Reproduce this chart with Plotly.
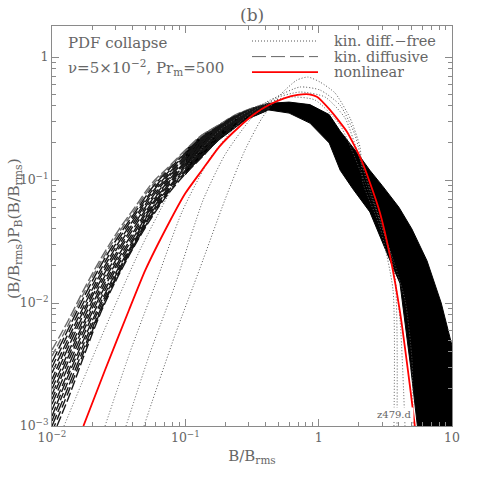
import plotly.graph_objects as go

# ---------------- data ----------------
# nonlinear run (red)
red_x = [0.0172, 0.025, 0.0378, 0.05, 0.0753, 0.1, 0.134, 0.18, 0.254, 0.33, 0.426, 0.55, 0.695, 0.85,
         0.97, 1.216, 1.633, 2.042, 2.427, 2.884, 3.44, 4.07, 4.84, 5.4]
red_y = [0.001, 0.00285, 0.00877, 0.0184, 0.0447, 0.078, 0.121, 0.187, 0.271, 0.344, 0.409, 0.461, 0.492, 0.497,
         0.475, 0.371, 0.246, 0.154, 0.0946, 0.054, 0.0237, 0.0085, 0.0021, 0.0008]

# kinematic, diffusion-free (dotted)
d1_x = [0.0123, 0.0229, 0.0457, 0.0912, 0.182, 0.363, 0.610, 0.939, 1.445, 2.042, 3.144, 4.442, 5.01, 5.10]
d1_y = [0.001, 0.0050, 0.0270, 0.1098, 0.255, 0.407, 0.473, 0.447, 0.280, 0.1205, 0.0357, 0.01057, 0.00344, 0.001]
d2_x = [0.025, 0.0385, 0.0593, 0.0944, 0.153, 0.257, 0.432, 0.724, 1.116, 1.576, 2.042, 2.645, 3.548, 4.074, 4.44]
d2_y = [0.001, 0.004, 0.014, 0.055, 0.150, 0.296, 0.447, 0.519, 0.473, 0.319, 0.1455, 0.0626, 0.0224, 0.0073, 0.001]
d3_x = [0.0359, 0.0543, 0.0837, 0.136, 0.198, 0.305, 0.470, 0.724, 1.023, 1.445, 1.873, 2.226, 2.884, 3.737, 3.868]
d3_y = [0.001, 0.00392, 0.0140, 0.0688, 0.160, 0.3075, 0.465, 0.570, 0.539, 0.407, 0.232, 0.110, 0.0473, 0.0154, 0.001]
d4_x = [0.049, 0.0543, 0.0837, 0.129, 0.198, 0.280, 0.376, 0.513, 0.688, 0.832, 1.023, 1.326, 1.718, 2.042, 2.150, 2.884, 3.61, 3.67]
d4_y = [0.001, 0.0014, 0.0055, 0.0193, 0.0688, 0.175, 0.319, 0.491, 0.650, 0.687, 0.626, 0.510, 0.319, 0.185, 0.0946, 0.0415, 0.0128, 0.001]
dotted_series = [(d1_x, d1_y), (d2_x, d2_y), (d3_x, d3_y), (d4_x, d4_y)]

# kinematic, diffusive (dashed) - individual curves on the low-B side
dash_x = [0.01, 0.0133, 0.0178, 0.0237, 0.0316, 0.0422, 0.0562, 0.075, 0.1, 0.133, 0.178, 0.237, 0.316, 0.422]
c1 = [0.00415, 0.00728, 0.0136, 0.0238, 0.0392, 0.0607, 0.094, 0.128, 0.175, 0.232, 0.28, 0.338, 0.383, 0.42]
c1b = [0.0037, 0.0067, 0.0127, 0.0224, 0.0371, 0.058, 0.090, 0.125, 0.171, 0.227, 0.277, 0.335, 0.380, 0.418]
c2 = [0.0033, 0.0062, 0.0118, 0.021, 0.035, 0.055, 0.086, 0.121, 0.166, 0.222, 0.274, 0.332, 0.378, 0.415]
c2b = [0.0030, 0.0057, 0.0108, 0.0195, 0.0330, 0.0525, 0.082, 0.117, 0.162, 0.217, 0.271, 0.329, 0.376, 0.412]
c3 = [0.0027, 0.0052, 0.0100, 0.0182, 0.031, 0.050, 0.079, 0.113, 0.158, 0.213, 0.268, 0.326, 0.374, 0.41]
c3b = [0.0024, 0.0048, 0.0093, 0.0171, 0.0292, 0.0475, 0.0755, 0.1095, 0.154, 0.209, 0.2645, 0.323, 0.372, 0.407]
c4 = [0.0022, 0.0044, 0.0087, 0.0160, 0.0275, 0.045, 0.072, 0.106, 0.150, 0.205, 0.261, 0.32, 0.37, 0.405]
c4b = [0.0020, 0.0040, 0.0080, 0.0150, 0.0260, 0.0425, 0.069, 0.1025, 0.146, 0.2005, 0.2575, 0.3165, 0.3675, 0.4025]
c5 = [0.0018, 0.0037, 0.0074, 0.0140, 0.0245, 0.040, 0.066, 0.099, 0.142, 0.196, 0.254, 0.313, 0.365, 0.40]
c5b = [0.00165, 0.0034, 0.0069, 0.0131, 0.0231, 0.038, 0.0635, 0.096, 0.1385, 0.192, 0.2505, 0.3095, 0.3625, 0.3975]
c6 = [0.0015, 0.0031, 0.0064, 0.0122, 0.0218, 0.036, 0.061, 0.093, 0.135, 0.188, 0.247, 0.306, 0.36, 0.395]
c6b = [0.00135, 0.0028, 0.0059, 0.0114, 0.0206, 0.0345, 0.059, 0.090, 0.1315, 0.1835, 0.243, 0.3025, 0.357, 0.3925]
c7 = [0.0012, 0.0026, 0.0054, 0.0106, 0.0194, 0.033, 0.057, 0.087, 0.128, 0.179, 0.239, 0.299, 0.354, 0.39]
c7b = [0.0011, 0.00235, 0.0050, 0.0100, 0.0186, 0.032, 0.055, 0.0845, 0.124, 0.1735, 0.234, 0.2945, 0.3495, 0.3875]
c8 = [0.0010, 0.0021, 0.0046, 0.0094, 0.0178, 0.031, 0.053, 0.082, 0.120, 0.168, 0.229, 0.29, 0.345, 0.385]
c8b = [0.0009, 0.0019, 0.0043, 0.0091, 0.0173, 0.0305, 0.0515, 0.080, 0.116, 0.1605, 0.221, 0.2815, 0.336, 0.38]
c9 = [0.0008, 0.0017, 0.0040, 0.0088, 0.0168, 0.030, 0.050, 0.078, 0.112, 0.153, 0.213, 0.273, 0.327, 0.375]
dashed_series = [c1, c1b, c2, c2b, c3, c3b, c4, c4b, c5, c5b, c6, c6b, c7, c7b, c8, c8b, c9]

# dense part of the diffusive bundle (envelope)
band_top_x = [0.1, 0.133, 0.178, 0.237, 0.316, 0.422, 0.6, 0.86, 1.2, 1.45, 2.0, 2.42, 3.0, 4.0, 5.0, 6.5, 8.3, 10.0]
band_top_y = [0.175, 0.232, 0.28, 0.338, 0.383, 0.42, 0.43, 0.41, 0.34, 0.25, 0.16, 0.12, 0.09, 0.06, 0.04, 0.022, 0.01, 0.0045]
band_bot_x = [10.0, 5.5, 5.5, 4.9, 4.07, 3.44, 2.42, 1.8, 1.45, 1.2, 0.86, 0.6, 0.422, 0.282, 0.178, 0.112, 0.1]
band_bot_y = [0.0008, 0.0008, 0.001, 0.003, 0.0145, 0.022, 0.055, 0.085, 0.12, 0.2, 0.29, 0.35, 0.371, 0.3075, 0.211, 0.128, 0.11]

x_tickvals = [0.01, 0.1, 1, 10]
x_ticktext = ["10<sup>\u22122</sup>", "10<sup>\u22121</sup>", "1", "10"]
y_tickvals = [0.001, 0.01, 0.1, 1]
y_ticktext = ["10<sup>\u22123</sup>", "10<sup>\u22122</sup>", "10<sup>\u22121</sup>", "1"]

legend_labels = ["kin. diff.\u2212free", "kin. diffusive", "nonlinear"]

# ---------------- figure ----------------
FONT = "DejaVu Serif"
AX = "#8a8a8a"
TXT = "#666666"

fig = go.Figure()

fig.add_trace(go.Scatter(
    x=band_top_x + band_bot_x, y=band_top_y + band_bot_y,
    mode="lines", fill="toself", fillcolor="black",
    line=dict(color="black", width=1), hoverinfo="skip"))

dash_patterns = ["10px,3px", "8px,3px", "12px,3px", "9px,4px"]
for i, cy in enumerate(dashed_series):
    col = "#6a6a6a" if i < 2 else "#161616"
    fig.add_trace(go.Scatter(x=dash_x, y=cy, mode="lines",
                             line=dict(color=col, width=1.4, dash=dash_patterns[i % 4], shape="spline")))

for dx, dy in dotted_series:
    fig.add_trace(go.Scatter(x=dx, y=dy, mode="lines",
                             line=dict(color="#555555", width=1, dash="1px,2px", shape="spline", smoothing=0.6)))

fig.add_trace(go.Scatter(x=red_x, y=red_y, mode="lines",
                         line=dict(color="#ff0000", width=1.8, shape="spline", smoothing=0.5)))

minor_x = [k * 10 ** e for e in (-2, -1, 0) for k in range(2, 10)]
minor_y = [k * 10 ** e for e in (-3, -2, -1, 0) for k in range(2, 10)]

axis_common = dict(
    type="log", showline=True, linecolor=AX, linewidth=1, mirror="allticks",
    ticks="inside", ticklen=7, tickcolor=AX, tickwidth=1,
    showgrid=False, zeroline=False, automargin=False,
    tickfont=dict(family=FONT, size=12.5, color=TXT),
)

fig.update_xaxes(**axis_common, range=[-2, 1], tickmode="array",
                 tickvals=x_tickvals, ticktext=x_ticktext,
                 minor=dict(tickmode="array", tickvals=minor_x, ticks="inside",
                            ticklen=4, tickcolor=AX, showgrid=False),
                 title=dict(text="B/B<sub>rms</sub>", font=dict(family=FONT, size=15, color=TXT), standoff=6))
fig.update_yaxes(**axis_common, range=[-3, 0.252], tickmode="array",
                 tickvals=y_tickvals, ticktext=y_ticktext,
                 minor=dict(tickmode="array", tickvals=minor_y, ticks="inside",
                            ticklen=4, tickcolor=AX, showgrid=False))

annotations = [
    dict(text="(B/B<sub>rms</sub>)P<sub>B</sub>(B/B<sub>rms</sub>)", x=-0.0925, y=0.4925,
         xref="paper", yref="paper", showarrow=False, textangle=-90,
         font=dict(family=FONT, size=15.5, color=TXT), xanchor="center", yanchor="middle"),
    dict(text="(b)", x=0.5, y=1.0275, xref="paper", yref="paper", showarrow=False,
         font=dict(family=FONT, size=17, color=TXT), xanchor="center", yanchor="middle"),
    dict(text="PDF collapse", x=0.035, y=0.9575, xref="paper", yref="paper", showarrow=False,
         font=dict(family=FONT, size=15, color=TXT), xanchor="left", yanchor="middle"),
    dict(text="\u03bd=5\u00d710<sup>\u22122</sup>, Pr<sub>m</sub>=500", x=0.035, y=0.8975,
         xref="paper", yref="paper", showarrow=False,
         font=dict(family=FONT, size=15, color=TXT), xanchor="left", yanchor="middle"),
    dict(text="z479.d", x=0.855, y=0.03, xref="paper", yref="paper", showarrow=False,
         font=dict(family=FONT, size=10, color=TXT), xanchor="center", yanchor="middle",
         bgcolor="white"),
]
leg_y = [0.9625, 0.9235, 0.8845]
leg_styles = [dict(color="#555555", width=1, dash="1px,2px"),
              dict(color="#666666", width=1, dash="14px,5px"),
              dict(color="#ff0000", width=1.8)]
shapes = []
for lbl, ly, st in zip(legend_labels, leg_y, leg_styles):
    annotations.append(dict(text=lbl, x=0.7025, y=ly, xref="paper", yref="paper", showarrow=False,
                            font=dict(family=FONT, size=14.5, color=TXT), xanchor="left", yanchor="middle",
                            height=14, borderpad=0))
    shapes.append(dict(type="line", xref="paper", yref="paper", x0=0.5, x1=0.665, y0=ly, y1=ly, line=st))

fig.update_layout(
    width=477, height=477,
    margin=dict(l=52, r=25, t=26, b=51),
    paper_bgcolor="white", plot_bgcolor="white",
    showlegend=False, hovermode=False,
    annotations=annotations, shapes=shapes,
)

# remove the browser's default 8px page margin so the figure fills the window exactly
fig.write_html("out.html", config={"displayModeBar": False},
               post_script="document.body.style.margin='0px';")
